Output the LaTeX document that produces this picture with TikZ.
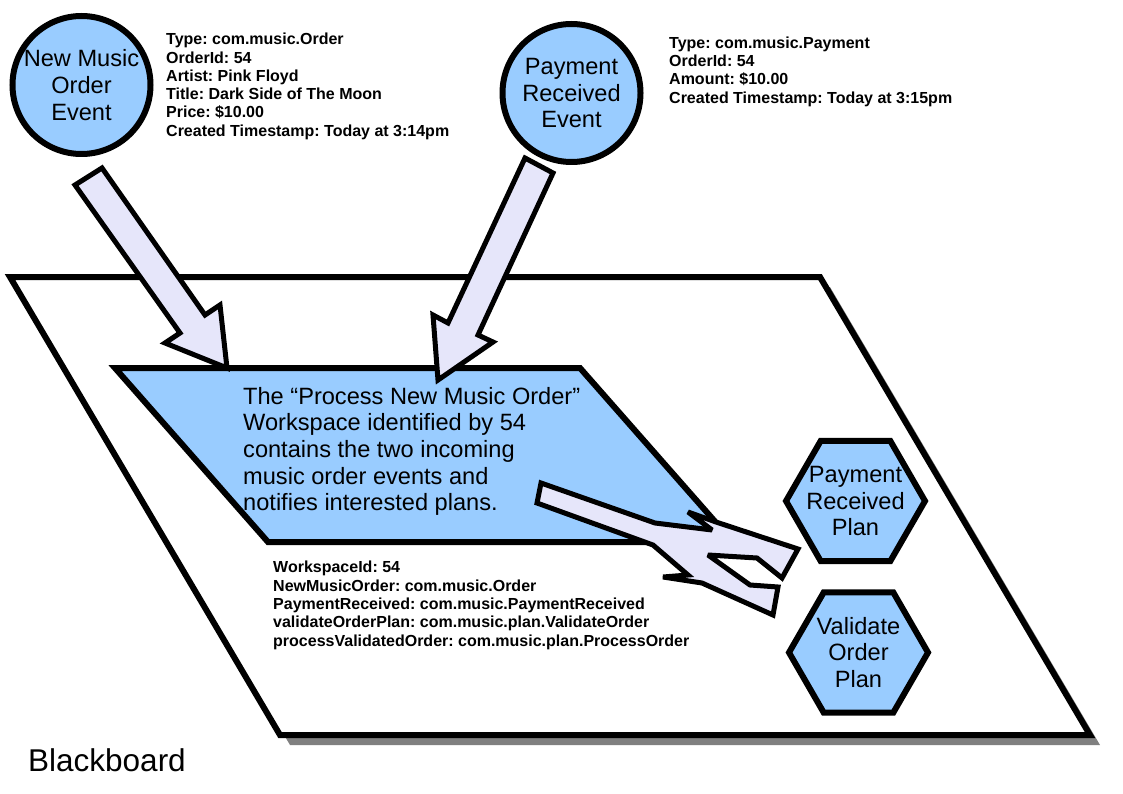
\documentclass[tikz,border=0pt]{standalone}
\usepackage{fontspec}
\setmainfont{Liberation Sans}
\usetikzlibrary{shapes.geometric}
\definecolor{nodeblue}{RGB}{153,204,255}
\definecolor{arrowfill}{RGB}{230,230,250}
\definecolor{shadowgray}{RGB}{128,128,128}
\newcommand{\infofont}{\fontsize{16}{18.3}\selectfont\bfseries}
\newcommand{\labelfont}{\fontsize{23.6}{26.6}\selectfont}
\frenchspacing
\begin{document}
\begin{tikzpicture}[x=1pt,y=-1pt,
	outline/.style={draw=black,line width=6pt},
	fatarrow/.style={draw=black,line width=5pt,fill=arrowfill,miter limit=3},
	event/.style={circle,outline,fill=nodeblue,minimum size=138pt,inner sep=0pt,align=center,font=\labelfont},
	plan/.style={regular polygon,regular polygon sides=6,outline,fill=nodeblue,minimum size=139pt,inner sep=0pt},
	plantext/.style={align=center,font=\labelfont,inner sep=0pt},
	info/.style={anchor=north west,inner sep=0pt,align=left,font=\infofont}]
	\useasboundingbox (0,0) rectangle (1123,794);
	% blackboard with its shadow
	\fill[shadowgray] (20,287) -- (830,287) -- (1100,745) -- (290,745) -- cycle;
	\draw[outline,fill=white] (10,277) -- (820,277) -- (1090,735) -- (280,735) -- cycle;
	\node[anchor=base west,inner sep=0pt,font=\fontsize{31.5}{36}\selectfont] (board) at (28,771) {Blackboard};
	% workspace
	\draw[outline,fill=nodeblue] (115,368) -- (580,368) -- (733,542) -- (268,542) -- cycle;
	\node[info,font=\labelfont] (wstext) at (243,387) {The “Process New Music Order”\\Workspace identified by 54\\contains the two incoming\\music order events and\\notifies interested plans.};
	\node[info] (wsinfo) at (273,561) {WorkspaceId: 54\\NewMusicOrder: com.music.Order\\PaymentReceived: com.music.PaymentReceived\\validateOrderPlan: com.music.plan.ValidateOrder\\processValidatedOrder: com.music.plan.ProcessOrder};
	% notify arrow to the plans
	\draw[fatarrow] (541,483) -- (655,523) -- (712,530) -- (688,512) -- (716,522) -- (798,549) -- (782,578) -- (757,558) -- (708,555) -- (750,585) -- (778,587) -- (773,615) -- (702,583) -- (663,577) -- (688,575) -- (653,545) -- (537,503) -- cycle;
	% incoming event arrows
	\draw[fatarrow] (75,185) -- (102,168) -- (205,315) -- (220,305) -- (227,368) -- (165,343) -- (180,333) -- cycle;
	\draw[fatarrow] (525,158) -- (553,173) -- (478,335) -- (493,342) -- (438,380) -- (433,315) -- (448,323) -- cycle;
	% events
	\node[event] (order) at (81.5,85) {New Music\\Order\\Event};
	\node[event] (payment) at (571.5,93) {Payment\\Received\\Event};
	\node[info] (orderinfo) at (166,33) {Type: com.music.Order\\OrderId: 54\\Artist: Pink Floyd\\Title: Dark Side of The Moon\\Price: \$10.00\\Created Timestamp: Today at 3:14pm};
	\node[info] (paymentinfo) at (669,36.5) {Type: com.music.Payment\\OrderId: 54\\Amount: \$10.00\\Created Timestamp: Today at 3:15pm};
	% plans
	\node[plan] (payplan) at (855.5,501) {};
	\node[plantext] (paytext) at (payplan.center) {Payment\\Received\\Plan};
	\node[plan] (validplan) at (858.5,652.5) {};
	\node[plantext] (validtext) at (validplan.center) {Validate\\Order\\Plan};
\end{tikzpicture}
\end{document}
